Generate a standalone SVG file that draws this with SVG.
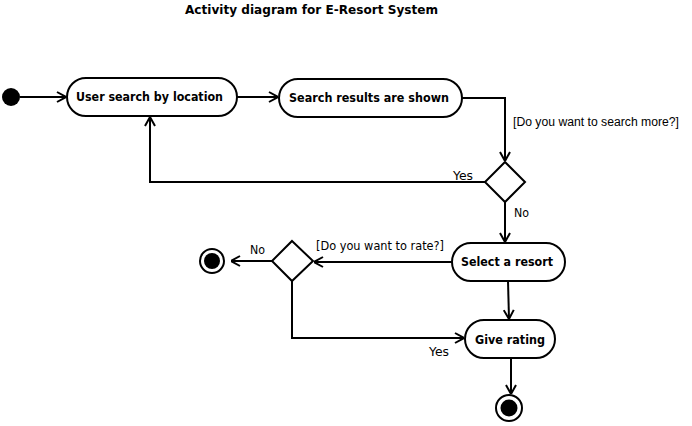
<svg xmlns="http://www.w3.org/2000/svg" width="692" height="426" viewBox="0 0 692 426">
<defs>
<style>
.n{fill:#fff;stroke:#000;stroke-width:2}
.e{fill:none;stroke:#000;stroke-width:2;marker-end:url(#a)}
.b{font-family:"DejaVu Sans",Verdana,sans-serif;font-weight:bold;font-size:13px;fill:#000}
.l{font-family:"DejaVu Sans",Verdana,sans-serif;font-size:12.5px;fill:#000}
.l2{font-family:"Liberation Sans",Arial,sans-serif;font-size:12.5px;fill:#000}
</style>
<marker id="a" viewBox="0 0 10 12" refX="10" refY="6" markerWidth="10" markerHeight="12" markerUnits="userSpaceOnUse" orient="auto">
<path d="M1,1 L10,6 L1,11" fill="none" stroke="#000" stroke-width="2"/>
</marker>
</defs>
<rect width="692" height="426" fill="#fff"/>
<text class="b" x="185" y="14" textLength="253" lengthAdjust="spacingAndGlyphs">Activity diagram for E-Resort System</text>
<g id="edges">
<path class="e" d="M20,97 L66,97"/>
<path class="e" d="M237,97 L278,97"/>
<path class="e" d="M462,98 L505,98 L505,161"/>
<path class="e" d="M485,182 L150,182 L150,117"/>
<path class="e" d="M505,202 L505,242"/>
<path class="e" d="M452,262 L314,262"/>
<path class="e" d="M272,261 L231,261"/>
<path class="e" d="M292,280 L292,338 L464,338"/>
<path class="e" d="M508,281 L509,319"/>
<path class="e" d="M511,358 L511,394"/>
<text class="l2" x="513" y="126" textLength="166" lengthAdjust="spacingAndGlyphs">[Do you want to search more?]</text>
<text class="l" x="453" y="180" textLength="20" lengthAdjust="spacingAndGlyphs">Yes</text>
<text class="l" x="514" y="217" textLength="15" lengthAdjust="spacingAndGlyphs">No</text>
<text class="l" x="316" y="250" textLength="128" lengthAdjust="spacingAndGlyphs">[Do you want to rate?]</text>
<text class="l" x="250" y="254" textLength="15" lengthAdjust="spacingAndGlyphs">No</text>
<text class="l" x="429" y="356" textLength="20" lengthAdjust="spacingAndGlyphs">Yes</text>
</g>
<g id="start"><circle cx="11" cy="97" r="9" fill="#000"/></g>
<g id="n1"><rect class="n" x="67" y="78" width="170" height="38" rx="19"/><text class="b" x="76" y="101" textLength="147" lengthAdjust="spacingAndGlyphs">User search by location</text></g>
<g id="n2"><rect class="n" x="279" y="79" width="183" height="38" rx="19"/><text class="b" x="289" y="102" textLength="160" lengthAdjust="spacingAndGlyphs">Search results are shown</text></g>
<g id="d1"><path class="n" d="M505,162 L525,182 L505,202 L485,182 Z"/></g>
<g id="n3"><rect class="n" x="452" y="243" width="113" height="38" rx="19"/><text class="b" x="461" y="266" textLength="92" lengthAdjust="spacingAndGlyphs">Select a resort</text></g>
<g id="d2"><path class="n" d="M292,241 L313,261 L292,281 L272,261 Z"/></g>
<g id="end1"><circle cx="212" cy="261" r="12" fill="#fff" stroke="#000" stroke-width="2"/><circle cx="212" cy="261" r="8" fill="#000"/></g>
<g id="n4"><rect class="n" x="465" y="320" width="90" height="38" rx="19"/><text class="b" x="475" y="344" textLength="70" lengthAdjust="spacingAndGlyphs">Give rating</text></g>
<g id="end2"><circle cx="509" cy="408" r="13" fill="#fff" stroke="#000" stroke-width="2"/><circle cx="509" cy="408" r="8.5" fill="#000"/></g>
</svg>
